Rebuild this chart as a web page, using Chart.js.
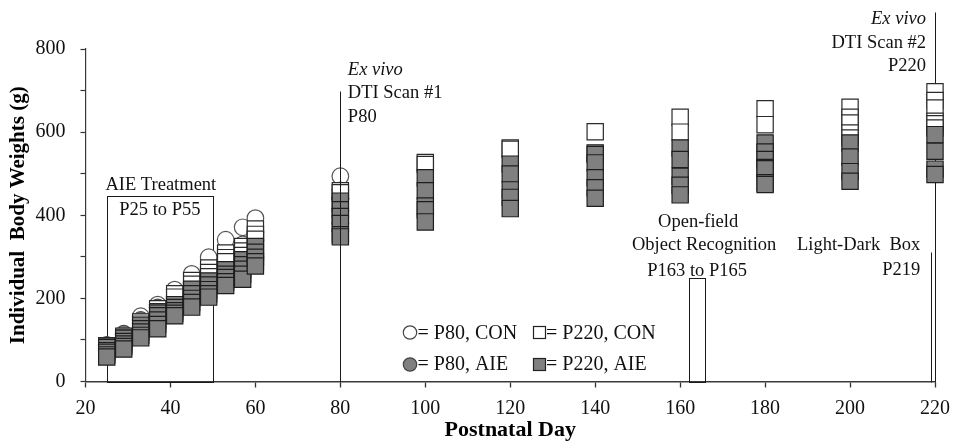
<!DOCTYPE html>
<html>
<head>
<meta charset="utf-8">
<script src="https://cdn.jsdelivr.net/npm/chart.js@4.4.1/dist/chart.umd.min.js"></script>
<style>
  html, body { margin: 0; padding: 0; background: #ffffff; }
  canvas { display: block; }
</style>
</head>
<body>
<canvas id="weights" width="959" height="441"></canvas>
<script>
// Postnatal days on which animals were weighed
const days = [25, 29, 33, 37, 41, 45, 49, 53, 57, 60, 80, 100, 120, 140, 160, 180, 200, 220];

// Individual body weights (g), one list per weighing day
// P220 cohort (kept until the second ex vivo scan)
const p220ConWeights = [
  [86, 83], [109, 105], [143, 138], [175, 168], [211, 203], [243, 234],
  [273, 262, 252], [309, 298, 288], [325, 314, 303], [367, 354, 342],
  [459, 454], [527, 522], [562, 559], [601], [636, 600], [656, 618],
  [660, 636, 622, 598, 586], [697, 676, 658, 626, 620, 610]
];
const p220AieWeights = [
  [82, 74, 70, 64, 59], [104, 96, 90, 84, 78], [135, 127, 119, 111, 105],
  [165, 158, 148, 137, 127], [185, 178, 170, 164, 158], [222, 211, 200, 190, 179],
  [242, 232, 221, 211, 203], [269, 258, 250, 240, 231], [293, 281, 270, 258, 246],
  [325, 311, 299, 288, 278], [434, 413, 397, 380, 353, 348], [490, 459, 422, 413, 384],
  [523, 499, 461, 443, 416], [550, 546, 526, 490, 466, 441], [562, 534, 494, 472, 449],
  [574, 552, 534, 515, 512, 478, 474], [574, 540, 505, 482], [594, 554, 511, 498]
];
// P80 cohort (weighed up to the first ex vivo scan)
const p80ConWeights = [
  [86, 80], [112, 104], [157, 140], [185, 168], [221, 200], [259, 235],
  [299, 270], [341, 300], [371, 330], [393, 360], [494, 460, 440]
];
const p80AieWeights = [
  [88, 75], [115, 95], [148, 125], [178, 150], [205, 180], [238, 210],
  [265, 235], [290, 260], [310, 280], [340, 300], [440, 410, 380]
];

// Axis ticks
const xTickValues = [20, 40, 60, 80, 100, 120, 140, 160, 180, 200, 220];
const yTickLabels = [0, 200, 400, 600, 800];

// Experimental timeline (postnatal days)
const treatmentWindow = [25, 50];
const openFieldWindow = [162.2, 165.8];
const scan1Day = 80;
const lightDarkDay = 219;
const scan2Day = 220;

const SERIF = '"Liberation Serif", "Times New Roman", serif';

function toPoints(weightLists, dayList) {
  const pts = [];
  weightLists.forEach((list, i) => {
    list.slice().sort((a, b) => b - a).forEach(w => pts.push({ x: dayList[i], y: w }));
  });
  return pts;
}

const timeline = {
  id: 'timeline',
  beforeDatasetsDraw(chart) {
    const { ctx, scales: { x, y } } = chart;
    const px = v => Math.round(x.getPixelForValue(v)) + 0.5;
    const py = v => Math.round(y.getPixelForValue(v)) + 0.5;
    ctx.save();
    ctx.strokeStyle = '#1a1a1a';
    ctx.lineWidth = 1;
    // AIE treatment window
    ctx.strokeRect(px(treatmentWindow[0]), py(446), px(treatmentWindow[1]) - px(treatmentWindow[0]), py(0) - py(446));
    // open-field / object recognition window
    ctx.strokeRect(px(openFieldWindow[0]), py(248), px(openFieldWindow[1]) - px(openFieldWindow[0]), py(0) - py(248));
    // light-dark box day and second scan
    ctx.beginPath();
    ctx.moveTo(px(lightDarkDay), py(0));
    ctx.lineTo(px(lightDarkDay), py(311));
    ctx.moveTo(px(scan2Day), py(0));
    ctx.lineTo(px(scan2Day), py(889));
    ctx.stroke();
    ctx.restore();
  },
  afterDatasetsDraw(chart) {
    const { ctx, scales: { x, y } } = chart;
    const px = v => Math.round(x.getPixelForValue(v)) + 0.5;
    const py = v => Math.round(y.getPixelForValue(v)) + 0.5;
    ctx.save();
    ctx.strokeStyle = '#1a1a1a';
    ctx.lineWidth = 1;
    // first scan
    ctx.beginPath();
    ctx.moveTo(px(scan1Day), py(0));
    ctx.lineTo(px(scan1Day), py(700));
    ctx.stroke();

    ctx.fillStyle = '#111';
    ctx.textBaseline = 'alphabetic';
    const font = '18.5px ' + SERIF;
    const italic = 'italic 18.5px ' + SERIF;

    // treatment window labels
    const tMid = (x.getPixelForValue(treatmentWindow[0]) + x.getPixelForValue(treatmentWindow[1])) / 2;
    const tTop = y.getPixelForValue(446);
    ctx.textAlign = 'center';
    ctx.font = font;
    ctx.fillText('AIE Treatment', tMid + 1, tTop - 6);
    ctx.fillText('P25 to P55', tMid, tTop + 19);

    // first scan labels
    const s1x = x.getPixelForValue(scan1Day) + 7.5;
    const s1Top = y.getPixelForValue(700);
    ctx.textAlign = 'left';
    ctx.font = italic;
    ctx.fillText('Ex vivo', s1x, s1Top - 16);
    ctx.font = font;
    ctx.fillText('DTI Scan #1', s1x, s1Top + 7.5);
    ctx.fillText('P80', s1x, s1Top + 31);

    // second scan labels
    const s2x = x.getPixelForValue(scan2Day) - 9;
    const s2Top = y.getPixelForValue(889);
    ctx.textAlign = 'right';
    ctx.font = italic;
    ctx.fillText('Ex vivo', s2x, s2Top + 12);
    ctx.font = font;
    ctx.fillText('DTI Scan #2', s2x, s2Top + 35.5);
    ctx.fillText('P220', s2x, s2Top + 59);

    // open-field labels
    const oMid = (x.getPixelForValue(openFieldWindow[0]) + x.getPixelForValue(openFieldWindow[1])) / 2;
    const oTop = y.getPixelForValue(248);
    ctx.textAlign = 'center';
    ctx.fillText('Open-field', oMid + 1, oTop - 51);
    ctx.fillText('Object Recognition', oMid + 7, oTop - 28);
    ctx.fillText('P163 to P165', oMid, oTop - 2.5);

    // light-dark labels
    const lx = x.getPixelForValue(lightDarkDay) - 10.5;
    const lTop = y.getPixelForValue(311);
    ctx.textAlign = 'right';
    ctx.fillText('Light-Dark  Box', lx, lTop - 2.5);
    ctx.fillText('P219', lx, lTop + 22.5);

    // key
    ctx.font = '20px ' + SERIF;
    ctx.textAlign = 'left';
    const rows = [
      { cy: 332.5, base: 338.5, fill: '#ffffff', circ: '= P80, CON', sq: '= P220, CON' },
      { cy: 364.5, base: 370, fill: '#808080', circ: '= P80, AIE', sq: '= P220, AIE' }
    ];
    rows.forEach(r => {
      ctx.beginPath();
      ctx.arc(410, r.cy, 6.7, 0, Math.PI * 2);
      ctx.fillStyle = r.fill;
      ctx.fill();
      ctx.strokeStyle = '#444';
      ctx.lineWidth = 1.2;
      ctx.stroke();
      ctx.fillStyle = r.fill;
      ctx.fillRect(533.5, r.cy - 6, 12, 12);
      ctx.strokeStyle = '#222';
      ctx.strokeRect(533.5, r.cy - 6, 12, 12);
      ctx.fillStyle = '#111';
      ctx.fillText(r.circ, 417.5, r.base);
      ctx.fillText(r.sq, 546, r.base);
    });
    ctx.restore();
  }
};

const circleDays = days.slice(0, p80ConWeights.length);

new Chart(document.getElementById('weights'), {
  type: 'scatter',
  data: {
    datasets: [
      {
        label: 'P220, AIE', data: toPoints(p220AieWeights, days), order: 0,
        pointStyle: 'rect', pointRadius: 11.5, pointHoverRadius: 11.5,
        backgroundColor: '#808080', borderColor: '#1e1e1e', borderWidth: 1.2, clip: false
      },
      {
        label: 'P220, CON', data: toPoints(p220ConWeights, days), order: 1,
        pointStyle: 'rect', pointRadius: 11.5, pointHoverRadius: 11.5,
        backgroundColor: '#ffffff', borderColor: '#2a2a2a', borderWidth: 1.2, clip: false
      },
      {
        label: 'P80, AIE', data: toPoints(p80AieWeights, circleDays), order: 2,
        pointStyle: 'circle', pointRadius: 8.3, pointHoverRadius: 8.3,
        backgroundColor: '#7a7a7a', borderColor: '#444', borderWidth: 1.2, clip: false
      },
      {
        label: 'P80, CON', data: toPoints(p80ConWeights, circleDays), order: 3,
        pointStyle: 'circle', pointRadius: 8.3, pointHoverRadius: 8.3,
        backgroundColor: '#ffffff', borderColor: '#555', borderWidth: 1.2, clip: false
      }
    ]
  },
  options: {
    responsive: false,
    animation: false,
    devicePixelRatio: 1,
    layout: { padding: { left: 0, top: 49, right: 22.5, bottom: 0 } },
    plugins: { legend: { display: false }, tooltip: { enabled: false } },
    events: [],
    scales: {
      x: {
        type: 'linear', min: 20, max: 220,
        afterBuildTicks: s => { s.ticks = xTickValues.map(v => ({ value: v })); },
        afterFit: s => { s.height = 59.5; },
        ticks: {
          font: { family: SERIF, size: 20 }, color: '#111', padding: 9,
          maxRotation: 0, autoSkip: false
        },
        grid: { drawOnChartArea: false, drawTicks: true, tickLength: 6, color: '#333', tickWidth: 1.3 },
        border: { display: true, color: '#3a3a3a', width: 1.6 },
        title: {
          display: true, text: 'Postnatal Day', color: '#000',
          font: { family: SERIF, size: 22, weight: 'bold', lineHeight: 1.0 }, padding: { top: 0, bottom: 0 }
        }
      },
      y: {
        type: 'linear', min: 0, max: 800,
        afterFit: s => { s.width = 85.5; },
        ticks: {
          stepSize: 100,
          callback: v => (yTickLabels.includes(v) ? String(v) : ''),
          font: { family: SERIF, size: 20 }, color: '#111', padding: 15
        },
        grid: { drawOnChartArea: false, drawTicks: true, tickLength: 5, color: '#333', tickWidth: 1.2 },
        border: { display: true, color: '#3a3a3a', width: 1.2 },
        title: {
          display: true, text: 'Individual  Body Weights (g)', color: '#000',
          font: { family: SERIF, size: 21, weight: 'bold' }, padding: { top: 6, bottom: 0 }
        }
      }
    }
  },
  plugins: [timeline]
});
</script>
</body>
</html>
